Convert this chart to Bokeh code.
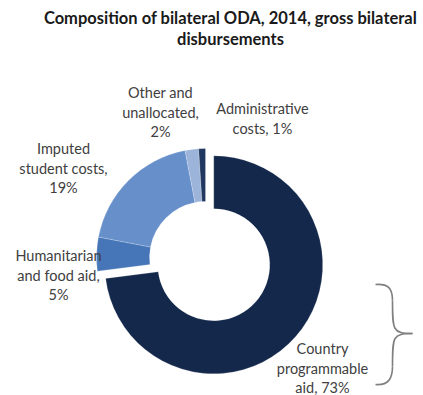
import numpy as np
from bokeh.plotting import figure
from bokeh.models import Range1d
from bokeh.core.properties import value
from bokeh.embed import file_html
from bokeh.resources import INLINE

# ---- data ----
categories = ["Country programmable aid", "Humanitarian and food aid",
              "Imputed student costs", "Other and unallocated", "Administrative costs"]
shares = [73, 5, 19, 2, 1]
labels = ["Country\nprogrammable\naid, 73%",
          "Humanitarian\nand food aid,\n5%",
          "Imputed\nstudent costs,\n19%",
          "Other and\nunallocated,\n2%",
          "Administrative\ncosts, 1%"]
colors = ["#13284a", "#4676b8", "#6790cb", "#9cb4da", "#20385f"]
title_lines = ["Composition of bilateral ODA, 2014, gross bilateral", "disbursements"]

W, H = 423, 395
def Y(py):
    return H - py

p = figure(width=W, height=H, output_backend="svg", toolbar_location=None,
           x_range=Range1d(0, W), y_range=Range1d(0, H), min_border=0)
p.axis.visible = False
p.grid.visible = False
p.outline_line_color = None
p.background_fill_color = "white"

cx, cy = 205, Y(257)
r_out, r_in = 109, 56
explode = 11

vals = np.array(shares, dtype=float)
frac = vals / vals.sum()
cum = np.concatenate([[0], np.cumsum(frac)])
start_c = cum[:-1] * 2 * np.pi
end_c = cum[1:] * 2 * np.pi
for i in range(len(vals)):
    mid = (start_c[i] + end_c[i]) / 2
    off = explode if i == 0 else 0
    ox = cx + off * np.sin(mid)
    oy = cy + off * np.cos(mid)
    p.annular_wedge(x=ox, y=oy, inner_radius=r_in, outer_radius=r_out,
                    start_angle=np.pi / 2 - end_c[i], end_angle=np.pi / 2 - start_c[i],
                    fill_color=colors[i], line_color="white", line_width=0.4,
                    line_alpha=0.5)

# labels
label_pos = [(322, 348), (58, 255), (63, 148), (160, 92), (262, 108)]
font = value("Lato")
gap = 19.5
for (lx, ly), lab in zip(label_pos, labels):
    for j, line in enumerate(lab.split("\n")):
        p.text(x=[lx], y=[Y(ly + j * gap)], text=[line], text_font=font,
               text_font_size="14.5px", text_color="#404040",
               text_align="center", text_baseline="middle")

# title
for j, t in enumerate(title_lines):
    p.text(x=[230], y=[Y(17 + j * 21)], text=[t], text_font=font,
           text_font_size="16.5px", text_font_style="bold", text_color="#1a1a1a",
           text_align="center", text_baseline="middle")

# curly brace
bx = 392
bc = "#7f7f7f"
p.bezier(x0=[375], y0=[Y(284)], x1=[bx], y1=[Y(300)],
         cx0=[388], cy0=[Y(283)], cx1=[bx], cy1=[Y(288)], line_color=bc, line_width=1.6)
p.bezier(x0=[bx], y0=[Y(300)], x1=[412], y1=[Y(333)],
         cx0=[bx], cy0=[Y(330)], cx1=[bx], cy1=[Y(333)], line_color=bc, line_width=1.6)
p.bezier(x0=[412], y0=[Y(333)], x1=[bx], y1=[Y(366)],
         cx0=[bx], cy0=[Y(333)], cx1=[bx], cy1=[Y(336)], line_color=bc, line_width=1.6)
p.bezier(x0=[bx], y0=[Y(366)], x1=[375], y1=[Y(384)],
         cx0=[bx], cy0=[Y(378)], cx1=[388], cy1=[Y(385)], line_color=bc, line_width=1.6)

open("out.html", "w").write(file_html(p, INLINE))
